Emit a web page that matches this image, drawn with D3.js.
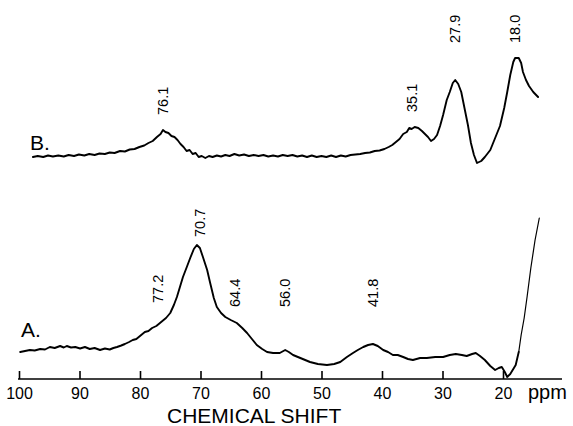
<!DOCTYPE html>
<html><head><meta charset="utf-8">
<script src="https://cdn.jsdelivr.net/npm/d3@7"></script>
<style>body{margin:0;background:#fff}svg{display:block}text{font-family:"Liberation Sans",Arial,Helvetica,sans-serif;fill:#000}</style>
</head><body><svg id="c" width="573" height="426"></svg>
<script>
// ppm positions and relative intensities (arbitrary units)
const tracePpmB = [97.7,96.9,96.0,95.2,94.4,93.5,92.6,91.8,90.9,90.1,89.2,88.4,87.5,86.7,85.8,85.0,84.2,83.3,82.5,81.7,80.9,80.1,79.3,78.6,77.9,77.2,76.6,76.2,75.8,75.3,74.8,74.3,73.8,73.3,72.8,72.3,71.8,71.3,70.8,70.3,69.8,69.2,68.6,68.0,67.3,66.6,65.9,65.2,64.4,63.6,62.8,62.0,61.2,60.4,59.6,58.8,58.0,57.2,56.4,55.6,54.8,54.0,53.2,52.4,51.6,50.8,50.0,49.2,48.4,47.6,46.8,46.0,45.2,44.4,43.6,42.8,42.0,41.2,40.4,39.6,38.9,38.3,37.7,37.1,36.5,35.9,35.5,35.1,34.6,34.0,33.4,32.9,32.4,31.9,31.4,30.9,30.4,29.9,29.3,28.8,28.3,27.9,27.4,26.9,26.3,25.8,25.3,24.8,24.3,23.6,23.0,22.1,21.3,20.5,19.8,19.3,18.8,18.3,18.0,17.4,17.0,16.7,16.2,15.7,15.0,14.2];
const traceIntB = [0,1,0,1.5,0.5,1.5,0.5,2,1,2.5,1.5,3,2,3.5,3,4.5,4,6,5.5,7.5,8,10,11.5,14,16,20,23,27,25,24,21,20,17,13,10,6,7,3,4,0,1,-1,1,0,1.5,0.5,2,1,3,1.5,2.5,1,2,1,2,0.5,1.5,0.5,2,1,2,0.5,1.5,0,1.5,0,1,0,1.5,0,1.5,0.5,2,2.5,3,4,4.5,6,6.5,8,10,12,15,18,23,25,29,28,30,29,26,23,20,16,18,22,31,42,57,65,74,77,73,65,47,32,14,2,-6,-4,0,7,19,31,49,65,82,95,99,99,94,85,77,71,65,60];
const tracePpmA = [99.8,99.0,98.2,97.4,96.5,95.7,94.9,94.1,93.2,92.6,92.1,91.4,90.7,89.9,89.1,88.3,87.5,86.6,85.8,85.0,84.4,83.8,83.1,82.5,81.8,81.2,80.6,80.0,79.2,78.6,78.0,77.3,76.7,75.7,75.0,74.4,73.9,73.4,72.9,72.2,71.7,71.1,70.6,70.1,69.6,68.9,68.4,67.8,67.3,66.6,65.9,65.0,64.0,63.1,62.3,61.5,60.7,59.8,59.0,58.0,56.9,56.0,55.4,54.7,53.9,53.1,51.9,50.6,49.1,47.9,46.9,45.8,44.8,44.0,43.1,42.3,41.5,40.7,39.8,39.0,38.2,37.4,36.5,35.7,34.9,33.7,32.6,31.2,29.9,28.8,27.8,26.8,26.0,25.1,24.5,23.8,23.0,22.1,21.3,20.7,20.2,19.7,19.3,18.8,18.3,17.9,17.4,17.0,16.5,16.0,15.4,14.7,14.0];
const traceIntA = [0,1,2,1.5,3,2.5,5,4,6,4.5,6,4.5,5,3.5,5,3,4,2,3.5,2.5,4,5,6.5,8,10,12,13,16,20,21,24,26,29,34,39,47,55,65,75,86,94,103,107,104,95,82,69,54,45,39,35,32,29,24,19,13,7,3,0,-1,-1,2,0,-3,-5,-7,-10,-12,-13,-12,-10,-5,-1,2,5,7,8,6,2,0,-3,-3,-5,-7,-8,-6,-6,-5,-5,-3,-2,-3,-4,-2,-1,-4,-8,-14,-18,-16,-15,-20,-25,-22,-17,-13,0,17,34,56,84,112,134];
// ppm where trace A turns into the thin steep solvent edge
const edgeStartA = 17.4;
// peak annotations: label text, ppm position on axis, intensity at label foot
const peakLabelsB = ["76.1","35.1","27.9","18.0"];
const peakPosB = [76.2,35.0,27.9,18.0];
const peakFootB = [42,45,114,114];
const peakLabelsA = ["77.2","70.7","64.4","56.0","41.8"];
const peakPosA = [77.0,70.1,64.3,56.0,41.5];
const peakFootA = [49,115,45,45,45];
const tickValues = [100,90,80,70,60,50,40,30,20];
const axisTitle = "CHEMICAL SHIFT";
const unitLabel = "ppm";
const traceNames = ["B.","A."];

const svg = d3.select("#c");
const x = d3.scaleLinear().domain([100, 20]).range([19, 503]);
const yB = d3.scaleLinear().domain([0, 100]).range([157, 57]);
const yA = d3.scaleLinear().domain([0, 100]).range([352, 252]);

function drawPts(pts, y, w){
  svg.append("path").datum(pts)
    .attr("fill","none").attr("stroke","#000").attr("stroke-width",w)
    .attr("stroke-linejoin","round").attr("stroke-linecap","round")
    .attr("d", d3.line().x(d=>x(d[0])).y(d=>y(d[1])));
}
const ptsB = tracePpmB.map((p,i)=>[p, traceIntB[i]]);
drawPts(ptsB, yB, 1.9);
const ptsA = tracePpmA.map((p,i)=>[p, traceIntA[i]]);
drawPts(ptsA.filter(d=>d[0]>=edgeStartA), yA, 1.9);
drawPts(ptsA.filter(d=>d[0]<=edgeStartA), yA, 1.2);

function drawLabels(labels, pos, foot, y){
  labels.forEach((t,i)=>{
    svg.append("text")
      .attr("transform",`translate(${x(pos[i])},${y(foot[i])}) rotate(-90)`)
      .attr("dy","0.36em").attr("font-size",14.5).text(t);
  });
}
drawLabels(peakLabelsB, peakPosB, peakFootB, yB);
drawLabels(peakLabelsA, peakPosA, peakFootA, yA);

svg.append("text").attr("x",30).attr("y",150).attr("font-size",21).text(traceNames[0]);
svg.append("text").attr("x",21).attr("y",337).attr("font-size",21).text(traceNames[1]);

// axis
const axisY = 379;
const ax = svg.append("g").attr("transform",`translate(0,${axisY})`)
  .call(d3.axisBottom(x).tickValues(tickValues).tickSizeInner(-8).tickSizeOuter(0));
ax.select(".domain").remove();
ax.selectAll(".tick line").attr("stroke","#000").attr("stroke-width",1.6);
ax.selectAll(".tick text").attr("y",20).attr("dy",0).attr("font-size",16)
  .attr("font-family",'"Liberation Sans",Arial,sans-serif').attr("fill","#000");
svg.append("line").attr("x1",x(100)-1).attr("x2",562).attr("y1",axisY).attr("y2",axisY)
  .attr("stroke","#000").attr("stroke-width",1.6);
svg.append("text").attr("x",528).attr("y",399).attr("font-size",20).text(unitLabel);
svg.append("text").attr("x",167).attr("y",423).attr("font-size",21).text(axisTitle);
</script></body></html>
